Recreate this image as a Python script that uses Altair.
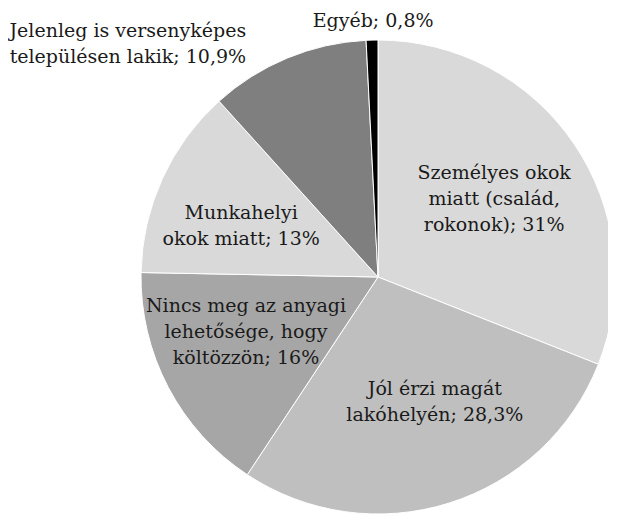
import math
import altair as alt
import pandas as pd

# --- data ---
categories = [
    "Személyes okok miatt (család, rokonok)",
    "Jól érzi magát lakóhelyén",
    "Nincs meg az anyagi lehetősége, hogy költözzön",
    "Munkahelyi okok miatt",
    "Jelenleg is versenyképes településen lakik",
    "Egyéb",
]
values = [31.0, 28.3, 16.0, 13.0, 10.9, 0.8]
label_texts = [
    "Személyes okok\nmiatt (család,\nrokonok); 31%",
    "Jól érzi magát\nlakóhelyén; 28,3%",
    "Nincs meg az anyagi\nlehetősége, hogy\nköltözzön; 16%",
    "Munkahelyi\nokok miatt; 13%",
    "Jelenleg is versenyképes\ntelepülésen lakik; 10,9%",
    "Egyéb; 0,8%",
]

# --- styling / layout ---
colors = ["#d9d9d9", "#bfbfbf", "#a6a6a6", "#d9d9d9", "#7f7f7f", "#000000"]
label_angle_deg = [56.1, 155.5, 247.4, 290.4, 313.0, 358.9]   # block centre, polar
label_radius_px = [140, 137, 143, 146, 342, 256]
CX, CY, R = 370, 269, 237
LH = 26

# Vega puts the first line at the anchor: move anchor up by half the block
angs, rads = [], []
for t, a, r in zip(label_texts, label_angle_deg, label_radius_px):
    n = t.count("\n") + 1
    px = r * math.sin(math.radians(a))
    py = -r * math.cos(math.radians(a)) - (n - 1) * LH / 2
    angs.append(math.atan2(px, -py))
    rads.append(math.hypot(px, py))

pie_df = pd.DataFrame({"cat": categories, "value": values, "idx": list(range(len(categories)))})
lab_df = pd.DataFrame({"text": label_texts, "ang": angs, "rad": rads})

pie = alt.Chart(pie_df).mark_arc(radius=R, stroke="white", strokeWidth=1).encode(
    theta=alt.Theta("value:Q", stack=True),
    order=alt.Order("idx:Q", sort="ascending"),
    color=alt.Color("cat:N", scale=alt.Scale(domain=categories, range=colors), legend=None),
    x=alt.value(CX),
    y=alt.value(CY),
)

labels = alt.Chart(lab_df).mark_text(
    font="DejaVu Serif", fontSize=19, lineBreak="\n", lineHeight=LH,
    align="center", baseline="middle", color="#1a1a1a",
).encode(
    theta=alt.Theta("ang:Q", scale=None),
    radius=alt.Radius("rad:Q", scale=None),
    text="text:N",
    x=alt.value(CX),
    y=alt.value(CY),
)

chart = alt.layer(pie, labels).properties(
    width=600, height=507, padding=0, background="white",
    autosize=alt.AutoSizeParams(type="none"),
).configure_view(stroke=None)

chart.save("out.html", embed_options={"renderer": "svg", "actions": False})
